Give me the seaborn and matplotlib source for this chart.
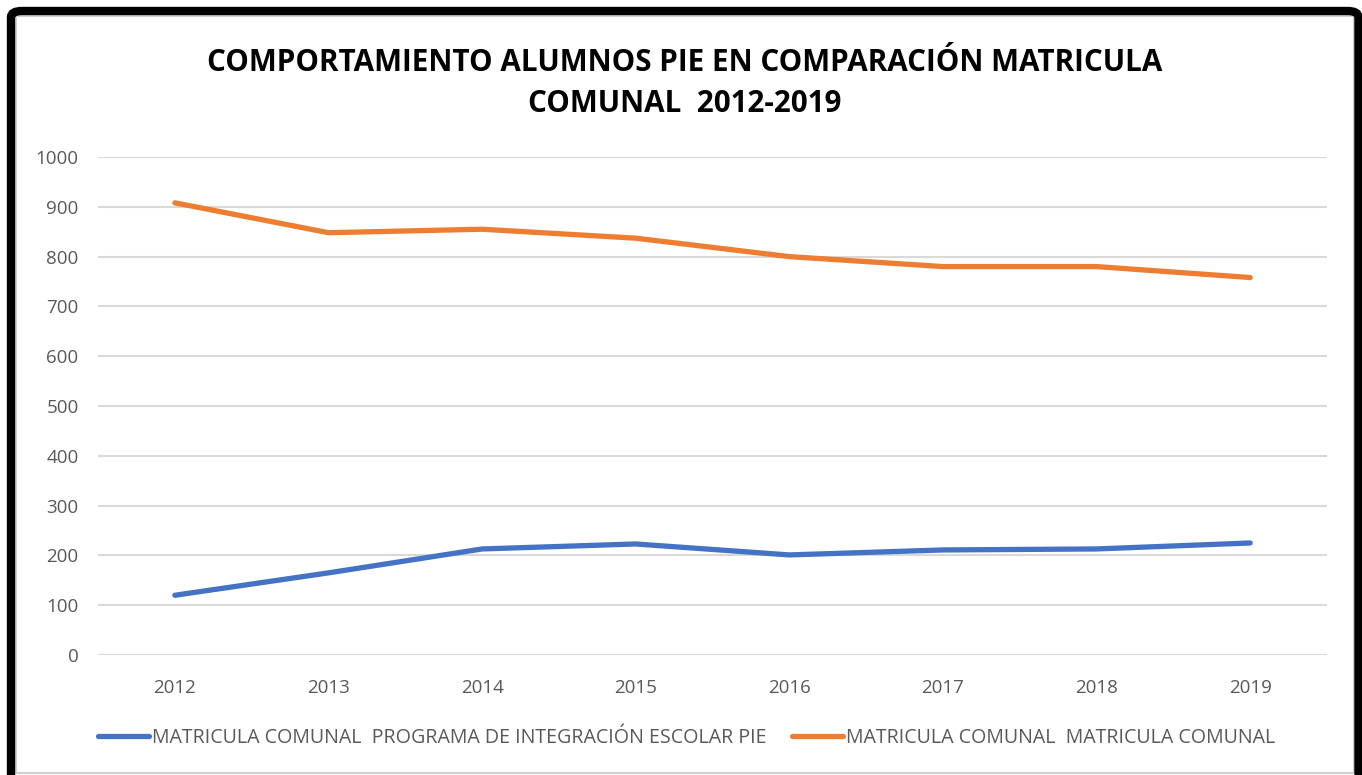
import matplotlib
matplotlib.use("Agg")
import matplotlib.pyplot as plt
import seaborn as sns
import pandas as pd
from matplotlib.patches import FancyBboxPatch, Rectangle

years = ["2012", "2013", "2014", "2015", "2016", "2017", "2018", "2019"]
pie_values = [120, 165, 213, 223, 201, 211, 213, 225]
comunal_values = [908, 848, 855, 837, 800, 780, 780, 758]
series_names = ["MATRICULA COMUNAL  PROGRAMA DE INTEGRACIÓN ESCOLAR PIE",
                "MATRICULA COMUNAL  MATRICULA COMUNAL"]
title_text = "COMPORTAMIENTO ALUMNOS PIE EN COMPARACIÓN MATRICULA\nCOMUNAL  2012-2019"
yticks = [0, 100, 200, 300, 400, 500, 600, 700, 800, 900, 1000]

df = pd.DataFrame({
    "year": years * 2,
    "value": pie_values + comunal_values,
    "series": [series_names[0]] * len(years) + [series_names[1]] * len(years),
})
df["x"] = list(range(len(years))) * 2

sns.set_theme(style="white")
plt.rcParams['font.family'] = ['Open Sans', 'DejaVu Sans']

fig = plt.figure(figsize=(13.62, 7.75), dpi=100)
ax = fig.add_axes([0.072, 0.1548, 0.9023, 0.6426])

palette = {series_names[0]: "#4472C4", series_names[1]: "#ED7D31"}
sns.lineplot(data=df, x="x", y="value", hue="series", palette=palette,
             linewidth=3.8, ax=ax, legend=True, solid_capstyle="round")

ax.set_xlim(-0.5, len(years) - 0.5)
ax.set_ylim(0, 1000)
ax.set_yticks(yticks)
ax.set_xticks(range(len(years)))
ax.set_xticklabels(years)
ax.set_xlabel("")
ax.set_ylabel("")
for s in ax.spines.values():
    s.set_visible(False)
ax.yaxis.grid(True, color="#D9D9D9", linewidth=1.5)
ax.set_axisbelow(True)
ax.tick_params(axis="both", length=0, labelsize=13.5, colors="#595959")
ax.tick_params(axis="x", pad=17)
ax.tick_params(axis="y", pad=14)

handles, labels = ax.get_legend_handles_labels()
for h in handles:
    h.set_solid_capstyle("round")
ax.legend(handles, labels, loc="center left", bbox_to_anchor=(0.0, -0.167),
          ncol=2, frameon=False, fontsize=14.1, handlelength=2.6,
          handletextpad=0.15, columnspacing=1.3, labelcolor="#595959",
          borderaxespad=0, borderpad=0)

fig.text(0.503, 0.8925, title_text, ha="center", va="center",
         fontsize=21.3, fontweight="bold", color="black", linespacing=1.5,
         family=["Open Sans", "DejaVu Sans"])

# Outer frame
fig.patches.append(Rectangle((16/1362, 0.002), (1354-16)/1362, (759-2)/775,
                             transform=fig.transFigure, fill=False,
                             edgecolor="#D0D0D0", linewidth=1.5))
top = 1 - 11/775
fig.patches.append(FancyBboxPatch((11/1362, -0.05), (1358.5-11)/1362, top + 0.05,
                                  boxstyle="round,pad=0,rounding_size=0.008",
                                  transform=fig.transFigure, fill=False,
                                  edgecolor="black", linewidth=6))

fig.savefig("out.png", dpi=100)
